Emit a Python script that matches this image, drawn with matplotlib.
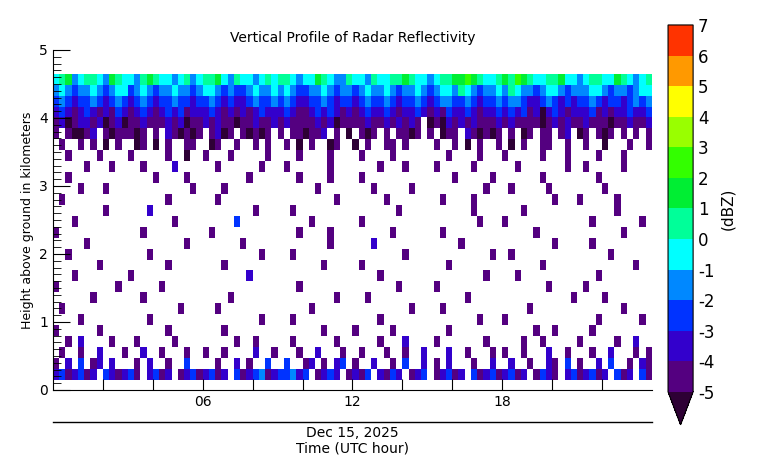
import numpy as np
import matplotlib.pyplot as plt
from matplotlib.colors import ListedColormap, BoundaryNorm

plt.rcParams['axes.unicode_minus'] = False

# hand-estimated reflectivity grid, one string per height band (top first)
# '.' = no echo, 'z' = below -5 dBZ, 'a'..'l' = -5 .. 6 dBZ
rows = [
    "efgdeffedgfe edfgfeedefde ffgedfeedefe ffedeegfeddf eedfeeffgfee deffgghgfeef gfhgfeeffgee deffeegfedef",
    "dedcddedcdee cdedcddeddcd eedcdccdedde dedccddedcdd cdeddedcdded cdeedfedcdde dfeddcdeedcd ddeedcddcdee",
    "cdcbccdcbcdc bcdcbccdccbc cdcbcbbcdccd cdcbbccdcbcc bcdccdcbccdc bcddccdcbccd cddcbbcdcbcb ccdcbccbcdcd",
    "bcbabcbabacb abcbabcbcabb bcbabababcbb bcbaabcbcbab abcbbcbabbcb abacbbcbabbc bcbcabzbcbab bbcababbcbbc",
    "abzabbabzabz aabaaababzaa babaazaabaab abaaaababzaa aabaabababa. zazbababaaab abaaaazababa abaaazaabaab",
    "a.azzab.azaa aza.a.bazaza .abza.azaza. a.aazaab.a.z .aza.a.aaza. a.zaa.bazaza .a.za.aa.ab. za.aza.a.a.a",
    ".a..a.a.z.a. .za.z.a..aa. .za..a..a.a. .a.z.a..za.. z.a..aa.a... .a..a.z.a..a .z.a..aa..a. .a..z...a..a",
    "..a....a.... a.....a..z.. a...a.....a. ...a....a... .a....a..... ...a....a... a.....a...a. ...a...a....",
    ".....a...a.. ..a....b.... ..a......a.. .a......a... ....a...a... .a.....a.... ..a.......a. .a.....a....",
    "..a......... ....a....a.. .......a.... ...a....a... .a.......... ....a.....a. ......a..... ...a........",
    "....a...a... ..........a. ...a........ ......a..... ...a.....a.. .........a.. .a.....a.... ....a.......",
    ".a.......... ......a..... ..a......... .........a.. .....a...... ..a....a.... ........a... a.....a.....",
    "........a... ...b........ ........a... ..a......... .......a.... .......a.... ...a........ ......a.....",
    "...a........ .......a.... .....c...... .....a...... .a.......... ........a... a........... ..a.......a.",
    "a........... ..a......... .a.......... ...a....a... ......a..... ..a......... .....a...... .......a....",
    ".....a...... .........a.. ......a..... ........a... ...b........ .....a...... ........a... ..a.........",
    "..a......... ...a........ .........a.. ..a......... ........a... ..........a. .a.......... .....a......",
    ".......a.... ......a..... ...a........ .......a.... .a.......... ...a........ ......a..... .........a..",
    "...a........ a........... .......b.... ............ ....a....... .........a.. ..a......... ...a........",
    "a.........a. .....a...... ............ ...a........ .......a.... .a.......... .......a.... .a..........",
    "......a..... ..a......... ....a....... .........a.. ..a......... ......a..... ...........a ....a.......",
    ".a.......... ........a... ..a......... .....a...... .........a.. ..a......... ....a....... .......a....",
    "....a....... ...a........ .........a.. ..a......... ....a....... ........a... a........... ...a......a.",
    "a......a.... ......a..... ...a........ .......a.... a.....a..... ...a........ .....a..a... ..a.........",
    "..a.b....a.. .a.....a.... .....a..a... ..a......a.. ....a...b... .a.......a.. ...a..a..... a.....a..b..",
    ".a..a..b...a ..b..a...a.. a..a....b..a ...a..b...a. .a...a..a..b ...b..a...a. a..a...b..a. ..a..b...a.a",
    "a.b.c.ab.b.. .a.b..a..c.. ..a..b.a..c. .c..ab.a.bc. a..b..a.c..b .a.b...a..b. .b..a..ba.c. a..b.c..a.ba",
    "bcabcab.cbab ca.bcab.abca bcab.cabcdab ccdbc.abcb.a bac.bacb.abc .abcab.cabca bcab.acba.bc abcab.cab.ca",
]
height_edges = np.linspace(0.15, 4.65, len(rows) + 1)   # km, bottom to top
hours = np.linspace(0, 24, 97)                          # 15-minute columns

levels = list(range(-5, 8))
colors = ['#540080', '#3300cc', '#0033ff', '#0088ff', '#00ffff', '#00ff99',
          '#00ee33', '#33ff00', '#99ff00', '#ffff00', '#ff9900', '#ff3300']

code = {'z': -6.0, '.': np.nan}
for i, ch in enumerate('abcdefghijkl'):
    code[ch] = -5 + i + 0.5

grid = []
for r in rows[::-1]:
    r = r.replace(' ', '')
    r = (r + '.' * 96)[:96]
    grid.append([code[c] for c in r])
grid = np.array(grid)

cmap = ListedColormap(colors)
cmap.set_under('#2e0035')
cmap.set_bad('white')
norm = BoundaryNorm(levels, cmap.N)

fig = plt.figure(figsize=(7.6, 4.71), dpi=100)
ax = fig.add_axes([0.0697, 0.172, 0.788, 0.722])
mesh = ax.pcolormesh(hours, height_edges, np.ma.masked_invalid(grid), cmap=cmap, norm=norm)

ax.set_xlim(0, 24)
ax.set_ylim(0, 5)
ax.spines['top'].set_visible(False)
ax.spines['right'].set_visible(False)
ax.set_xticks(np.arange(2, 24, 2))
ax.set_xticklabels(['' if h % 6 else '%02d' % h for h in range(2, 24, 2)])
ax.tick_params(axis='x', direction='in', length=8)
ax.set_yticks(range(6))
ax.set_yticks(np.arange(0, 5.01, 0.1), minor=True)
ax.tick_params(axis='y', which='major', direction='in', length=12)
ax.tick_params(axis='y', which='minor', direction='in', length=6)
ax.set_ylabel('Height above ground in kilometers', fontsize=9)
ax.set_xlabel('Dec 15, 2025\nTime (UTC hour)', labelpad=12)
ax.plot([0, 1], [-0.095, -0.095], transform=ax.transAxes, color='black', lw=1, clip_on=False)
ax.set_title('Vertical Profile of Radar Reflectivity', fontsize=10)

cax = fig.add_axes([0.879, 0.098, 0.033, 0.849])
cb = fig.colorbar(mesh, cax=cax, extend='min', extendfrac=0.09, ticks=levels)
cb.ax.tick_params(length=0, labelsize=12)
cb.set_label('(dBZ)', fontsize=11)

fig.savefig('out.png')
